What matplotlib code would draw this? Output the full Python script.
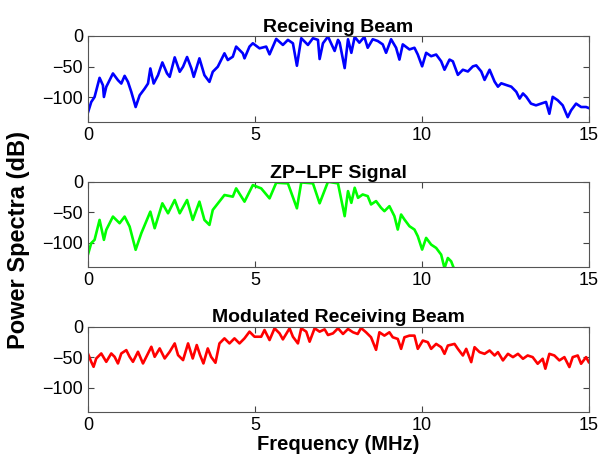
import matplotlib
matplotlib.use('Agg')
import matplotlib.pyplot as plt

plt.rcParams['font.family'] = ['Liberation Sans', 'DejaVu Sans']

# Receiving beam (blue)
beam_f = [0.00, 0.10, 0.20, 0.35, 0.45, 0.48, 0.55, 0.75, 0.90, 1.00, 1.10, 1.20, 1.30, 1.43, 1.55,
          1.70, 1.80, 1.87, 1.97, 2.10, 2.23, 2.37, 2.45, 2.60, 2.75, 2.85, 2.97, 3.10, 3.17, 3.34,
          3.49, 3.64, 3.74, 3.89, 4.09, 4.19, 4.34, 4.44, 4.64, 4.69, 4.84, 4.94, 5.14, 5.34, 5.44,
          5.64, 5.84, 5.99, 6.14, 6.26, 6.39, 6.59, 6.74, 6.89, 6.94, 7.04, 7.19, 7.39, 7.49, 7.54,
          7.69, 7.79, 7.89, 7.99, 8.13, 8.28, 8.38, 8.53, 8.68, 8.83, 8.93, 9.08, 9.23, 9.33, 9.43,
          9.63, 9.78, 9.88, 10.01, 10.13, 10.28, 10.43, 10.58, 10.68, 10.83, 10.93, 11.08, 11.23, 11.38, 11.53,
          11.63, 11.78, 11.88, 12.03, 12.18, 12.28, 12.38, 12.53, 12.68, 12.83, 12.93, 13.03, 13.13, 13.27, 13.42,
          13.57, 13.72, 13.82, 13.92, 14.07, 14.22, 14.37, 14.47, 14.62, 14.77, 14.92, 15.00]
beam_db = [-124.8, -107.4, -99.2, -68.1, -80.1, -99.2, -82.8, -61.0, -71.9, -77.4, -64.9, -74.7, -91.0, -115.5, -96.5,
           -85.6, -77.4, -52.9, -77.4, -63.8, -43.1, -61.0, -66.5, -34.9, -58.3, -50.1, -34.3, -52.9, -66.5, -36.5,
           -63.8, -74.7, -58.3, -50.1, -28.3, -39.2, -33.8, -17.4, -28.3, -36.5, -17.4, -12.0, -20.2, -17.4, -30.0,
           -4.9, -14.7, -6.5, -12.0, -48.5, -3.8, -14.7, -3.8, -6.5, -37.6, -12.0, -1.1, -24.5, -6.5, -11.0,
           -52.3, -5.5, -27.5, -1.7, -11.0, -1.7, -19.3, -5.5, -8.3, -13.8, -27.5, -5.5, -19.3, -38.5, -13.8,
           -22.0, -19.3, -30.3, -49.5, -27.5, -33.0, -30.3, -41.3, -55.0, -38.5, -41.3, -63.3, -55.0, -57.8, -49.5,
           -47.9, -57.8, -71.5, -55.0, -74.3, -82.5, -77.0, -79.8, -82.5, -90.8, -101.8, -93.5, -99.0, -110.0, -112.8,
           -110.0, -107.3, -126.5, -99.0, -104.5, -112.8, -132.0, -121.0, -110.0, -115.5, -115.5, -117.2]

# ZP-LPF signal (green)
lpf_f = [0.00, 0.10, 0.20, 0.35, 0.48, 0.55, 0.75, 0.95, 1.10, 1.25, 1.43, 1.60, 1.87, 2.00, 2.23,
         2.40, 2.60, 2.75, 2.97, 3.14, 3.34, 3.49, 3.64, 3.74, 4.09, 4.34, 4.44, 4.69, 4.94, 5.19,
         5.44, 5.64, 5.99, 6.26, 6.39, 6.74, 6.94, 7.19, 7.49, 7.69, 7.79, 7.89, 7.99, 8.09, 8.23,
         8.38, 8.48, 8.63, 8.78, 8.88, 9.03, 9.18, 9.28, 9.38, 9.48, 9.63, 9.78, 9.88, 10.01, 10.13,
         10.28, 10.43, 10.58, 10.68, 10.78, 10.88, 10.98]
lpf_db = [-119.9, -100.8, -95.4, -62.7, -95.4, -79.0, -57.2, -68.1, -57.2, -73.6, -111.7, -84.5, -49.1, -76.3, -35.4,
          -51.8, -30.0, -51.8, -30.0, -62.7, -32.7, -62.7, -70.9, -46.3, -21.8, -24.5, -10.9, -32.7, -5.5, -10.9,
          -27.3, -1.6, -2.7, -43.6, -1.1, -2.7, -35.4, 0.0, -2.7, -56.5, -15.4, -34.6, -9.9, -26.4, -20.9,
          -23.6, -37.3, -31.8, -42.8, -48.3, -40.1, -56.5, -78.5, -53.8, -62.0, -73.0, -78.5, -89.5, -111.4, -92.2,
          -103.2, -108.7, -119.7, -142.0, -125.2, -130.7, -145.0]

# Modulated receiving beam (red)
mod_f = [0.00, 0.10, 0.17, 0.25, 0.40, 0.55, 0.70, 0.80, 0.90, 1.00, 1.15, 1.25, 1.35, 1.50, 1.65,
         1.80, 1.90, 2.00, 2.15, 2.30, 2.45, 2.60, 2.70, 2.85, 3.00, 3.14, 3.26, 3.36, 3.46, 3.59,
         3.69, 3.82, 3.94, 4.09, 4.24, 4.39, 4.54, 4.69, 4.84, 4.99, 5.19, 5.29, 5.44, 5.59, 5.74,
         5.84, 6.04, 6.14, 6.29, 6.39, 6.54, 6.64, 6.79, 6.94, 7.09, 7.19, 7.34, 7.49, 7.64, 7.79,
         7.94, 8.08, 8.18, 8.33, 8.48, 8.63, 8.73, 8.88, 9.03, 9.13, 9.28, 9.38, 9.48, 9.63, 9.78,
         9.88, 10.03, 10.18, 10.28, 10.43, 10.58, 10.68, 10.78, 10.98, 11.08, 11.23, 11.33, 11.48, 11.58, 11.73,
         11.88, 12.03, 12.18, 12.28, 12.43, 12.58, 12.73, 12.88, 13.03, 13.17, 13.32, 13.47, 13.62, 13.70, 13.82,
         13.97, 14.12, 14.27, 14.42, 14.52, 14.67, 14.77, 14.92, 15.00]
mod_db = [-44.0, -57.7, -65.9, -52.2, -44.0, -57.7, -44.0, -49.5, -60.4, -44.0, -38.5, -49.5, -57.7, -41.2, -60.4,
          -44.0, -33.0, -49.5, -35.7, -52.2, -41.2, -27.5, -46.7, -54.9, -27.5, -52.2, -30.2, -46.7, -60.4, -35.7,
          -49.5, -59.3, -27.5, -19.2, -27.5, -19.2, -27.5, -19.2, -8.2, -16.5, -16.5, -5.5, -22.0, -2.7, -11.0,
          -20.9, -2.7, -16.5, -27.5, -2.7, -8.2, -24.7, -2.7, -8.2, -4.4, -13.7, -11.0, -2.7, -12.0, -3.8,
          -9.2, -12.0, -2.2, -9.2, -17.4, -38.0, -9.2, -14.7, -9.2, -17.4, -20.1, -36.4, -17.4, -14.7, -14.7,
          -36.4, -22.8, -25.5, -36.4, -28.3, -33.7, -44.6, -31.0, -28.3, -36.4, -47.3, -36.4, -58.2, -33.7, -41.8,
          -44.6, -39.1, -47.3, -41.8, -55.4, -44.6, -50.0, -44.6, -52.7, -47.3, -50.0, -60.9, -52.7, -69.0, -44.6,
          -47.3, -55.4, -50.0, -66.3, -50.0, -47.3, -60.9, -50.0, -58.2]

panels = [
    ('Receiving Beam', beam_f, beam_db, 'blue'),
    ('ZP\u2212LPF Signal', lpf_f, lpf_db, '#00ff00'),
    ('Modulated Receiving Beam', mod_f, mod_db, 'red'),
]

fig = plt.figure(figsize=(6.02, 4.66), dpi=100)
boxes = [(0.146, 0.738, 0.832, 0.185),
         (0.146, 0.427, 0.832, 0.183),
         (0.146, 0.116, 0.832, 0.183)]

for (title, f, db, color), box in zip(panels, boxes):
    ax = fig.add_axes(box)
    ax.plot(f, db, color=color, linewidth=1.9)
    ax.set_xlim(0, 15)
    ax.set_ylim(-140, 0)
    ax.set_xticks([0, 5, 10, 15])
    ax.set_yticks([-100, -50, 0])
    ax.tick_params(direction='in', top=True, right=True, labelsize=13, length=4, color='#444444')
    for s in ax.spines.values():
        s.set_color('#555555')
    ax.set_title(title, fontsize=14, fontweight='bold', pad=3)

ax.set_xlabel('Frequency (MHz)', fontsize=14.5, fontweight='bold', labelpad=1)
fig.text(0.031, 0.485, 'Power Spectra (dB)', rotation=90, fontsize=17, fontweight='bold',
         va='center', ha='center')

fig.savefig('out.png', dpi=100)
